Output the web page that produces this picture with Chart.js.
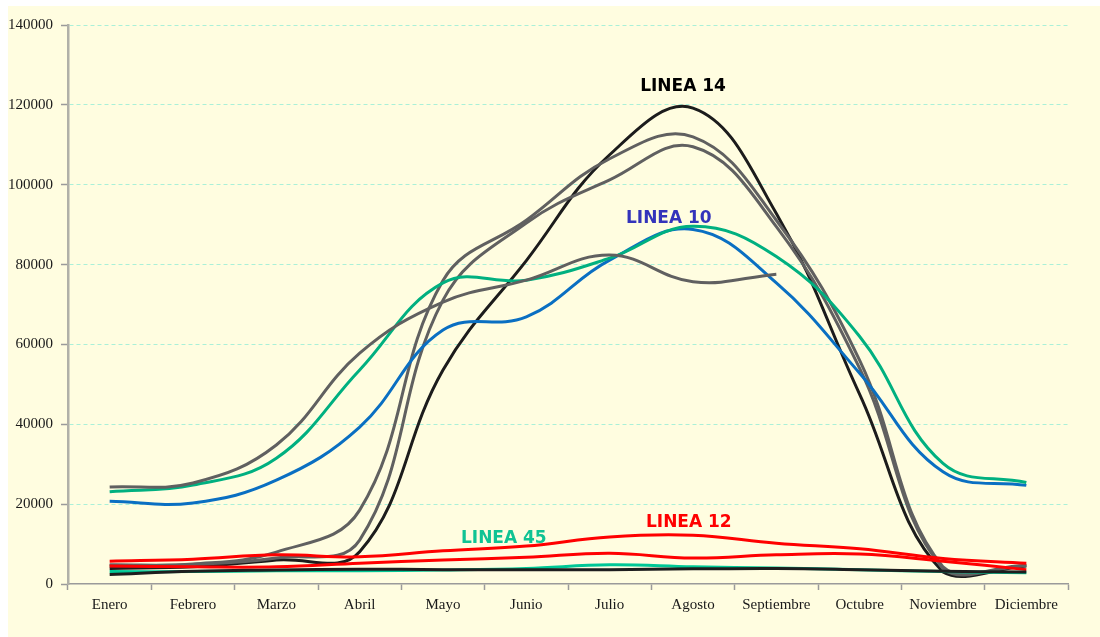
<!DOCTYPE html>
<html>
<head>
<meta charset="utf-8">
<script src="https://cdn.jsdelivr.net/npm/chart.js@4.4.1/dist/chart.umd.min.js"></script>
<style>
  html, body { margin: 0; padding: 0; background: #ffffff; }
  #wrap { position: absolute; left: 8px; top: 6px; width: 1092px; height: 631px; background: #fffde0; }
  canvas { display: block; }
</style>
</head>
<body>
<div id="wrap"><canvas id="c" width="1092" height="631"></canvas></div>
<script>
// ---- data ----
const months = ['Enero','Febrero','Marzo','Abril','Mayo','Junio','Julio','Agosto','Septiembre','Octubre','Noviembre','Diciembre'];
const yTicks = [0, 20000, 40000, 60000, 80000, 100000, 120000, 140000];

const greenBig   = [23100, 24800, 31500, 53600, 75400, 76100, 81600, 89600, 82000, 62000, 30200, 25400];
const linea10    = [20700, 20300, 26000, 39300, 63600, 66900, 81100, 88800, 75400, 52800, 28100, 24700];
const grayA      = [24300, 25300, 34800, 57800, 70600, 76100, 82400, 75700, 77600, null, null, null];
const grayB      = [4800, 5000, 8000, 18500, 76000, 91100, 106500, 112000, 91100, 56000, 4300, 4700];
const grayC      = [4600, 4900, 6500, 11000, 71100, 90400, 101200, 109500, 89500, 54000, 3800, 4600];
const linea14    = [3900, 4300, 6000, 8100, 53600, 81000, 107500, 119200, 92800, 47500, 3000, 4500];
const linea12    = [5700, 6200, 7300, 6800, 8300, 9500, 11800, 12200, 10200, 8800, 6400, 5200];
const redLow     = [4500, 4300, 4300, 5200, 6000, 6700, 7700, 6500, 7300, 7500, 5700, 3600];
const linea45    = [3100, 3100, 3300, 3300, 3500, 3900, 4800, 4300, 4000, 3600, 3100, 2800];
const blackLow   = [2400, 3200, 3500, 3700, 3600, 3600, 3600, 3800, 3900, 3600, 3200, 3000];

const labelTexts  = ['LINEA 14', 'LINEA 10', 'LINEA 45', 'LINEA 12'];
const labelIndex  = [6.88, 6.71, 4.73, 6.95];
const labelValues = [124500, 91500, 11300, 15300];
const labelColors = ['#000000', '#3333bb', '#10c394', '#ff0000'];

// ---- chart ----
const ds = (data, color) => ({
  data, borderColor: color, backgroundColor: color, borderWidth: 3,
  pointRadius: 0, pointHoverRadius: 0, tension: 0.4, fill: false, spanGaps: false
});

const labelPlugin = {
  id: 'lineLabels',
  afterDatasetsDraw(chart) {
    const { ctx, scales: { x, y } } = chart;
    ctx.save();
    ctx.font = 'bold 17px "DejaVu Sans", Verdana, sans-serif';
    ctx.textAlign = 'center';
    ctx.textBaseline = 'middle';
    labelTexts.forEach((t, i) => {
      ctx.fillStyle = labelColors[i];
      ctx.fillText(t, x.getPixelForValue(labelIndex[i]), y.getPixelForValue(labelValues[i]));
    });
    ctx.restore();
  }
};

new Chart(document.getElementById('c'), {
  type: 'line',
  data: {
    labels: months,
    datasets: [
      ds(blackLow, '#1e1e1e'),
      ds(linea45, '#00c896'),
      ds(redLow, '#ff0000'),
      ds(linea12, '#ff0000'),
      ds(grayA, '#606060'),
      ds(greenBig, '#00b080'),
      ds(linea10, '#0a6fc2'),
      ds(grayC, '#606060'),
      ds(grayB, '#606060'),
      ds(linea14, '#1c1c1c')
    ]
  },
  options: {
    responsive: false,
    animation: false,
    events: [],
    layout: { padding: { left: 0, top: 19, right: 32, bottom: 0 } },
    plugins: { legend: { display: false }, tooltip: { enabled: false }, title: { display: false } },
    scales: {
      x: {
        type: 'category',
        offset: true,
        grid: { offset: true, drawOnChartArea: false, drawTicks: true, tickLength: 6, tickColor: '#9a9a9a', tickWidth: 1.5 },
        border: { display: true, color: '#9a9a9a', width: 1.5 },
        ticks: { color: '#1a1a1a', font: { family: '"Liberation Serif", "Times New Roman", serif', size: 15 }, padding: 6, maxRotation: 0, autoSkip: false },
        afterFit(s) { s.height = 53; }
      },
      y: {
        min: 0, max: 140000,
        afterBuildTicks(s) { s.ticks = yTicks.map(v => ({ value: v })); },
        grid: { color: (c) => c.tick && c.tick.value === 0 ? 'rgba(0,0,0,0)' : '#aaf0d8', lineWidth: 1, tickLength: 7, tickColor: '#9a9a9a', tickWidth: 1.5, tickBorderDash: [] },
        border: { display: true, color: '#b0b0a8', width: 2.5, dash: [4, 3] },
        ticks: { color: '#1a1a1a', font: { family: '"Liberation Serif", "Times New Roman", serif', size: 15 }, padding: 8, callback: (v) => String(v) },
        afterFit(s) { s.width = 60; }
      }
    }
  },
  plugins: [labelPlugin]
});
</script>
</body>
</html>
